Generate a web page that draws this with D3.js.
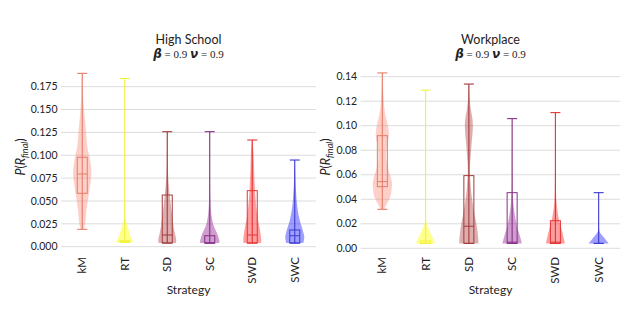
<!DOCTYPE html>
<html><head><meta charset="utf-8">
<script src="https://cdn.jsdelivr.net/npm/d3@7"></script>
<style>
body{margin:0;background:#fff;}
svg{display:block;font-family:Lato,"Open Sans",sans-serif;}
</style></head>
<body><svg id="c" width="640" height="330"></svg>
<script>
// ---------------- data ----------------
const categories = ["kM","RT","SD","SC","SWD","SWC"];
const colors = ["#fa8072","#ffff00","#a52a2a","#800080","#ff0000","#0000ff"];
const lineColors = ["#e57d69","#f2f23c","#a43a3c","#873087","#e43434","#3b3bcf"];

// High School panel
const hsTicks = [0.000,0.025,0.050,0.075,0.100,0.125,0.150,0.175];
const hsMin = [0.019,0.005,0.004,0.004,0.004,0.004];
const hsQ1  = [0.0584,0.005,0.004,0.004,0.004,0.004];
const hsMed = [0.0795,0.005,0.0128,0.004,0.0128,0.0120];
const hsQ3  = [0.0978,0.0065,0.0565,0.0120,0.0613,0.0183];
const hsMax = [0.1896,0.184,0.1258,0.1258,0.1167,0.0948];
// violin profiles: [value, relative density]
const hsDensity = [
  [[0.019,0.15],[0.026,0.3],[0.04,0.42],[0.048,0.53],[0.058,0.66],[0.068,0.8],[0.08,0.92],[0.09,0.85],[0.098,0.72],[0.11,0.5],[0.128,0.36],[0.146,0.2],[0.165,0.09],[0.1896,0.03]],
  [[0.005,0.88],[0.01,0.65],[0.018,0.4],[0.026,0.18],[0.033,0.05],[0.05,0.02],[0.184,0.01]],
  [[0.004,0.86],[0.0073,0.9],[0.0146,0.76],[0.022,0.63],[0.029,0.55],[0.04,0.42],[0.051,0.3],[0.065,0.17],[0.08,0.08],[0.098,0.04],[0.1258,0.02]],
  [[0.004,0.95],[0.0055,0.97],[0.0128,0.8],[0.022,0.42],[0.029,0.25],[0.0365,0.15],[0.05,0.07],[0.07,0.03],[0.1258,0.015]],
  [[0.004,0.88],[0.0073,0.9],[0.018,0.78],[0.028,0.6],[0.0365,0.48],[0.05,0.35],[0.0656,0.25],[0.085,0.18],[0.102,0.13],[0.1167,0.03]],
  [[0.004,0.85],[0.0073,0.92],[0.011,0.95],[0.018,0.8],[0.029,0.5],[0.044,0.25],[0.0656,0.1],[0.08,0.05],[0.0948,0.02]]
];

// Workplace panel
const wpTicks = [0.00,0.02,0.04,0.06,0.08,0.10,0.12,0.14];
const wpMin = [0.0318,0.004,0.004,0.004,0.004,0.004];
const wpQ1  = [0.0503,0.004,0.004,0.004,0.004,0.004];
const wpMed = [0.0544,0.004,0.018,0.005,0.005,0.004];
const wpQ3  = [0.0919,0.006,0.0593,0.0454,0.0225,0.004];
const wpMax = [0.1431,0.129,0.134,0.1058,0.1107,0.0454];
const wpDensity = [
  [[0.0318,0.2],[0.034,0.3],[0.037,0.5],[0.042,0.8],[0.045,0.88],[0.05,0.95],[0.053,0.97],[0.058,0.85],[0.064,0.6],[0.069,0.5],[0.072,0.42],[0.078,0.4],[0.085,0.5],[0.092,0.66],[0.099,0.58],[0.106,0.38],[0.113,0.22],[0.124,0.12],[0.135,0.05],[0.1431,0.02]],
  [[0.004,0.95],[0.008,0.75],[0.012,0.5],[0.017,0.25],[0.0204,0.1],[0.03,0.03],[0.129,0.01]],
  [[0.004,0.95],[0.0068,0.95],[0.0176,0.8],[0.031,0.5],[0.045,0.25],[0.055,0.15],[0.064,0.1],[0.072,0.15],[0.0857,0.28],[0.099,0.4],[0.106,0.35],[0.113,0.2],[0.122,0.08],[0.134,0.02]],
  [[0.004,0.97],[0.0095,0.8],[0.0176,0.5],[0.0258,0.3],[0.034,0.15],[0.045,0.06],[0.06,0.03],[0.1058,0.01]],
  [[0.004,0.95],[0.0095,0.8],[0.0176,0.55],[0.0258,0.3],[0.039,0.1],[0.055,0.05],[0.08,0.03],[0.1107,0.01]],
  [[0.004,1.0],[0.007,0.7],[0.01,0.4],[0.0136,0.1],[0.018,0.03],[0.0454,0.01]]
];

// ---------------- drawing ----------------
const svg = d3.select("#c");

function panel(opt){
  const g = svg.append("g");
  const x = d3.scaleBand().domain(categories).range(opt.xr);
  const y = d3.scaleLinear().domain(opt.yd).range(opt.yr);
  const w = d3.scaleLinear().domain([0,1]).range([0,10]);
  const boxW = 10;

  // grid
  g.selectAll("line.grid").data(opt.ticks).join("line")
    .attr("x1",opt.xr[0]).attr("x2",opt.xr[1])
    .attr("y1",d=>y(d)).attr("y2",d=>y(d))
    .attr("stroke","#dcdcdc").attr("stroke-width",1);
  // y tick labels
  g.selectAll("text.yt").data(opt.ticks).join("text")
    .attr("x",opt.xr[0]-3.5).attr("y",d=>y(d)).attr("dy","0.35em")
    .attr("text-anchor","end").attr("font-size","10.5px").attr("fill","#222")
    .text(d=>d3.format(opt.fmt)(d));
  // x tick labels
  g.selectAll("text.xt").data(categories).join("text")
    .attr("transform",d=>`translate(${x(d)+x.bandwidth()/2},257) rotate(-90)`)
    .attr("dy","0.35em").attr("text-anchor","end")
    .attr("font-size","11.5px").attr("fill","#222").text(d=>d);
  // x axis title
  g.append("text").attr("x",(opt.xr[0]+opt.xr[1])/2).attr("y",294)
    .attr("text-anchor","middle").attr("font-size","12px").attr("fill","#222").text("Strategy");
  // y axis title
  const yl = g.append("text")
    .attr("transform",`translate(${opt.ylx},157) rotate(-90)`)
    .attr("text-anchor","middle").attr("font-size","12.5px").attr("fill","#222");
  yl.append("tspan").attr("font-style","italic").text("P");
  yl.append("tspan").text("(");
  yl.append("tspan").attr("font-style","italic").text("R");
  yl.append("tspan").attr("font-style","italic").attr("font-size","9px").attr("dy","3").text("final");
  yl.append("tspan").attr("dy","-3").text(")");
  // titles
  const cx = (opt.xr[0]+opt.xr[1])/2;
  g.append("text").attr("x",cx).attr("y",44).attr("text-anchor","middle")
    .attr("font-size","12.5px").attr("fill","#222").text(opt.title);
  const t2 = g.append("text").attr("x",cx).attr("y",57.5).attr("text-anchor","middle").attr("fill","#222");
  t2.append("tspan").attr("font-family","DejaVu Sans").attr("font-weight","bold").attr("font-style","italic").attr("font-size","12px").text("β");
  t2.append("tspan").attr("font-family","Liberation Serif").attr("font-size","11px").text(" = 0.9   ");
  t2.append("tspan").attr("font-family","DejaVu Sans").attr("font-weight","bold").attr("font-style","italic").attr("font-size","12px").text("ν");
  t2.append("tspan").attr("font-family","Liberation Serif").attr("font-size","11px").text(" = 0.9");

  const area = d3.area().curve(d3.curveCatmullRom)
    .y(d=>y(d[0]));
  categories.forEach((c,i)=>{
    const xc = x(c)+x.bandwidth()/2;
    const col = colors[i], lc = lineColors[i];
    // violin
    g.append("path").datum(opt.density[i])
      .attr("d", area.x0(d=>xc-w(d[1])).x1(d=>xc+w(d[1])))
      .attr("fill",col).attr("fill-opacity", i===1?0.45:0.38).attr("stroke","none");
    // extrema bar + caps
    g.append("line").attr("x1",xc).attr("x2",xc).attr("y1",y(opt.min[i])).attr("y2",y(opt.max[i]))
      .attr("stroke",lc).attr("stroke-width",1.1);
    [opt.min[i],opt.max[i]].forEach(v=>{
      g.append("line").attr("x1",xc-boxW/2).attr("x2",xc+boxW/2).attr("y1",y(v)).attr("y2",y(v))
        .attr("stroke",lc).attr("stroke-width",1.1);
    });
    // box
    g.append("rect").attr("x",xc-boxW/2).attr("width",boxW)
      .attr("y",y(opt.q3[i])).attr("height",Math.max(0,y(opt.q1[i])-y(opt.q3[i])))
      .attr("fill","none").attr("stroke",lc).attr("stroke-width",1);
    g.append("line").attr("x1",xc-boxW/2).attr("x2",xc+boxW/2).attr("y1",y(opt.med[i])).attr("y2",y(opt.med[i]))
      .attr("stroke",lc).attr("stroke-width",1);
  });
}

panel({xr:[61,316], yd:[0,0.175], yr:[246.7,86.7], ticks:hsTicks, fmt:".3f", ylx:25,
  title:"High School", density:hsDensity, min:hsMin,q1:hsQ1,med:hsMed,q3:hsQ3,max:hsMax});
panel({xr:[360.7,620.3], yd:[0,0.14], yr:[248.3,76.7], ticks:wpTicks, fmt:".2f", ylx:330,
  title:"Workplace", density:wpDensity, min:wpMin,q1:wpQ1,med:wpMed,q3:wpQ3,max:wpMax});
</script></body></html>
